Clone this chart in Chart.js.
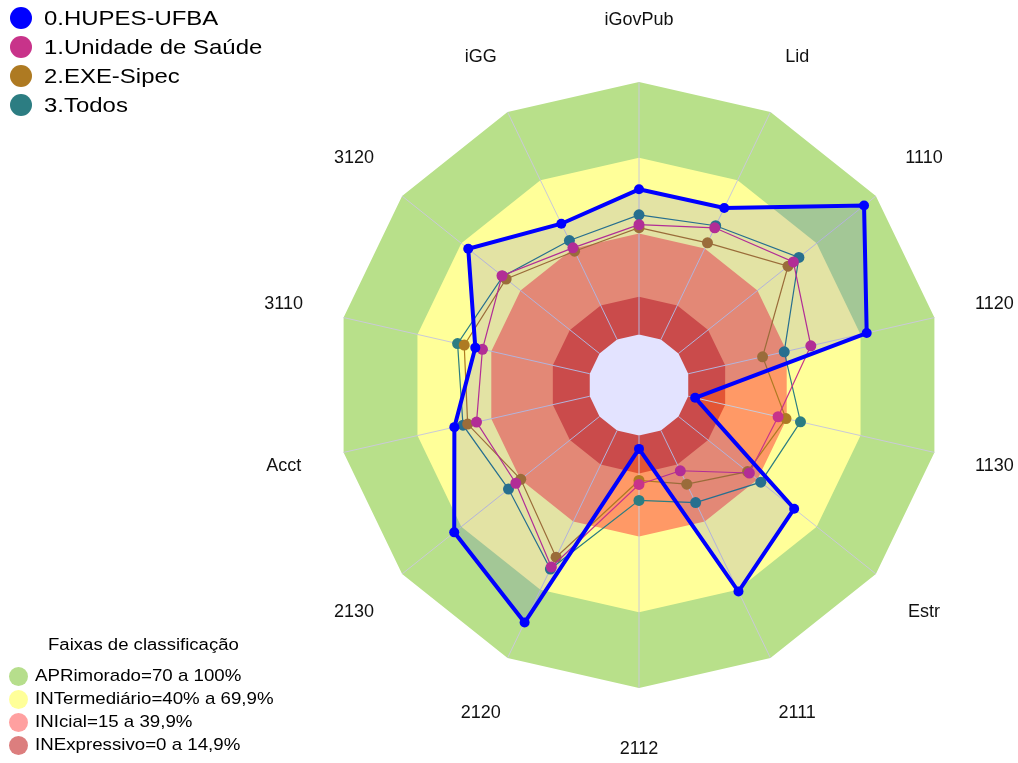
<!DOCTYPE html>
<html>
<head>
<meta charset="utf-8">
<script src="https://cdn.jsdelivr.net/npm/chart.js@4"></script>
<style>
  body { margin: 0; background: #fff; font-family: "Liberation Sans", Arial, sans-serif; color: #000; }
  #wrap { position: relative; width: 1018px; height: 763px; overflow: hidden; }
  #chart { position: absolute; left: 0; top: 0; }
  .dot { position: absolute; border-radius: 50%; }
  .txt { position: absolute; white-space: nowrap; transform-origin: 0 50%; }
</style>
</head>
<body>
<div id="wrap">
  <canvas id="chart" width="1018" height="763"></canvas>
  <div id="legSeries"></div>
  <div id="legBands"></div>
</div>
<script>
// axes of the radar, clockwise from the top
const labels = ['iGovPub', 'Lid', '1110', '1120', '1130', 'Estr', '2111', '2112', '2120', '2130', 'Acct', '3110', '3120', 'iGG'];

const seriesNames = ['0.HUPES-UFBA', '1.Unidade de Saúde', '2.EXE-Sipec', '3.Todos'];
const hupes    = [57.5, 57.8, 94.0, 72.5,  2.8, 58.6, 70.8,  5.3, 84.4, 73.6, 55.0, 46.5, 66.5, 50.9];
const unidade  = [43.5, 49.1, 58.2, 49.8, 36.5, 35.9, 17.7, 19.4, 60.0, 42.4, 46.0, 43.6, 49.4, 40.3];
const exeSipec = [42.3, 42.5, 55.5, 30.2, 39.7, 35.0, 23.6, 17.8, 55.7, 39.9, 49.6, 51.0, 47.3, 38.8];
const todos    = [47.4, 50.0, 61.0, 39.0, 45.6, 41.7, 31.7, 25.7, 60.9, 46.1, 51.5, 53.7, 49.0, 43.5];
const seriesColors = ['#0000FF', '#C8338A', '#AE7A22', '#2C7D82'];

// classification bands (upper limit of each band)
const bandNames = ['APRimorado=70 a 100%', 'INTermediário=40% a 69,9%', 'INIcial=15 a 39,9%', 'INExpressivo=0 a 14,9%'];
const bandTops = [100, 70, 40, 15];
const bandFills = ['#B8E08A', '#FFFF99', '#FF9966', '#E35535'];
const bandLegendColors = ['#B6DE8C', '#FFFF99', '#FFA0A0', '#DC7E7E'];

const rMin = -20, rMax = 100;

const datasets = [];
const series = [hupes, unidade, exeSipec, todos];
series.forEach((vals, i) => {
  datasets.push({
    label: seriesNames[i],
    data: vals,
    order: i,
    borderColor: seriesColors[i],
    borderWidth: i === 0 ? 4 : 1.2,
    pointRadius: i === 0 ? 5 : 5.5,
    pointBackgroundColor: seriesColors[i],
    pointBorderWidth: 0,
    fill: i === 0 ? 'start' : false,
    backgroundColor: i === 0 ? 'rgba(0,0,255,0.11)' : 'rgba(0,0,0,0)'
  });
});
bandTops.forEach((top, i) => {
  datasets.push({
    label: bandNames[i],
    data: labels.map(() => top),
    order: 14 - i,
    borderColor: 'rgba(0,0,0,0)',
    borderWidth: 0,
    pointRadius: 0,
    fill: 'start',
    backgroundColor: bandFills[i]
  });
});
// white hole below value 0
const holeIndex = datasets.length;
datasets.push({
  label: 'hole',
  data: labels.map(() => 0),
  order: 10,
  borderColor: 'rgba(0,0,0,0)',
  borderWidth: 0,
  pointRadius: 0,
  fill: 'start',
  backgroundColor: '#FFFFFF'
});

// spokes drawn over the bands, under the series
const spokes = {
  id: 'spokes',
  afterDatasetDraw(chart, args) {
    if (args.index !== holeIndex) return;
    const r = chart.scales.r, ctx = chart.ctx;
    ctx.save();
    ctx.strokeStyle = '#CACAD8';
    ctx.lineWidth = 1;
    labels.forEach((_, i) => {
      const a = r.getPointPositionForValue(i, 0);
      const b = r.getPointPositionForValue(i, rMax);
      ctx.beginPath();
      ctx.moveTo(a.x, a.y);
      ctx.lineTo(b.x, b.y);
      ctx.stroke();
    });
    ctx.restore();
  }
};

// axis names centred on a circle just outside the outer band
const axisNames = {
  id: 'axisNames',
  afterDraw(chart) {
    const r = chart.scales.r, ctx = chart.ctx;
    ctx.save();
    ctx.font = '18px "Liberation Sans"';
    ctx.fillStyle = '#111';
    ctx.textAlign = 'center';
    ctx.textBaseline = 'middle';
    labels.forEach((name, i) => {
      const p = r.getPointPosition(i, r.drawingArea + 61.5);
      ctx.fillText(name, p.x, p.y);
    });
    ctx.restore();
  }
};

new Chart(document.getElementById('chart'), {
  type: 'radar',
  data: { labels: labels, datasets: datasets },
  plugins: [spokes, axisNames],
  options: {
    responsive: false,
    animation: false,
    devicePixelRatio: 1,
    layout: { padding: { left: 260, right: 0, top: 82, bottom: 75 } },
    elements: { line: { tension: 0 } },
    plugins: { legend: { display: false }, tooltip: { enabled: false } },
    scales: {
      r: {
        min: rMin,
        max: rMax,
        ticks: { display: false },
        grid: { display: false },
        angleLines: { display: false },
        pointLabels: { display: false }
      }
    }
  }
});

// legends
const legSeries = document.getElementById('legSeries');
seriesNames.forEach((name, i) => {
  const cy = 18 + 29 * i;
  legSeries.insertAdjacentHTML('beforeend',
    `<div class="dot" style="left:10px;top:${cy - 11}px;width:22px;height:22px;background:${seriesColors[i]}"></div>` +
    `<div class="txt" style="left:44px;top:${cy - 14}px;line-height:28px;font-size:21px;transform:scaleX(1.14)">${name}</div>`);
});

const legBands = document.getElementById('legBands');
legBands.insertAdjacentHTML('beforeend',
  `<div class="txt" style="left:48px;top:633px;line-height:24px;font-size:16px;transform:scaleX(1.16)">Faixas de classificação</div>`);
bandNames.forEach((name, i) => {
  const cy = 676 + 23 * i;
  legBands.insertAdjacentHTML('beforeend',
    `<div class="dot" style="left:9px;top:${cy - 9.5}px;width:19px;height:19px;background:${bandLegendColors[i]}"></div>` +
    `<div class="txt" style="left:35px;top:${cy - 12}px;line-height:24px;font-size:17px;transform:scaleX(1.1)">${name}</div>`);
});
</script>
</body>
</html>
